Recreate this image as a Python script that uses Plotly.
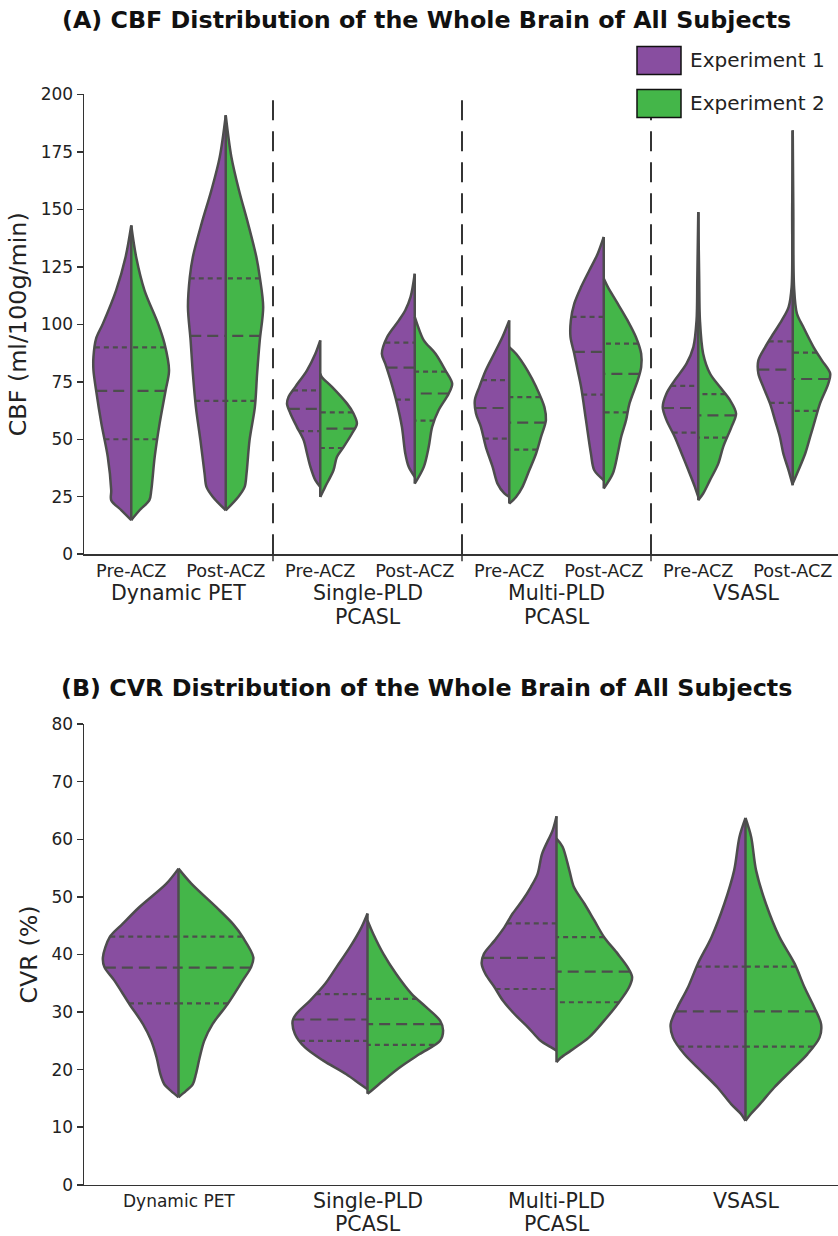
import numpy as np
import plotly.graph_objects as go

# ---------------- data ----------------
METHODS = ["Dynamic PET", "Single-PLD<br>PCASL", "Multi-PLD<br>PCASL", "VSASL"]
CONDITIONS = ["Pre-ACZ", "Post-ACZ"]
EXPERIMENTS = ["Experiment 1", "Experiment 2"]
CBF_TICKS = [0, 25, 50, 75, 100, 125, 150, 175, 200]
CVR_TICKS = [0, 10, 20, 30, 40, 50, 60, 70, 80]

# violin outlines: (value, relative density)  -- CBF, ml/100g/min
CBF_PET_PRE_E1 = [(143, 0), (129.3, .15), (114.8, .40), (100.3, .75), (93.8, .93), (85.8, 1.0), (80, 1.0), (71.3, .93), (56.8, .79), (42.3, .62), (27.8, .53), (23.5, .53), (19.1, .26), (14.8, 0)]
CBF_PET_PRE_E2 = [(143, 0), (129.3, .13), (114.8, .35), (100.3, .71), (91.6, .88), (80, 1.0), (71.3, .91), (56.8, .75), (42.3, .62), (27.8, .53), (23.5, .48), (19.1, .22), (14.8, 0)]
CBF_PET_POST_E1 = [(190.9, 0), (172.7, .16), (158.3, .38), (143.8, .64), (129.3, .87), (120.6, .95), (107.5, 1.0), (93, .93), (78.6, .87), (64, .79), (49.6, .67), (35.1, .56), (29.3, .51), (24.9, .34), (19.1, 0)]
CBF_PET_POST_E2 = [(190.9, 0), (172.7, .15), (158.3, .35), (143.8, .59), (129.3, .81), (120.6, .90), (107.5, .99), (93, .90), (78.6, .83), (64, .77), (49.6, .63), (35.1, .55), (29.3, .50), (24.9, .33), (19.1, 0)]
CBF_SPLD_PRE_E1 = [(93, 0), (87.2, .13), (80, .35), (72.8, .66), (68.4, .84), (65.5, .88), (61.2, .79), (55.4, .62), (49.6, .44), (43.8, .35), (38, .26), (32.2, .13), (29.3, 0)]
CBF_SPLD_PRE_E2 = [(78.6, 0), (77.1, .04), (72.8, .31), (65.5, .71), (61.2, .88), (56.8, .97), (52.5, .84), (46.7, .62), (42.3, .44), (36.5, .35), (29.3, .13), (24.9, 0)]
CBF_SPLD_POST_E1 = [(122, 0), (111.9, .11), (106.1, .25), (101.7, .42), (94.5, .73), (87.2, .87), (82.9, .78), (75.7, .64), (65.5, .47), (55.4, .34), (43.8, .25), (38, .16), (33.6, 0)]
CBF_SPLD_POST_E2 = [(103.2, 0), (100.3, .06), (93, .24), (87.2, .55), (80, .81), (74.2, .99), (69.9, .90), (62.6, .63), (55.4, .46), (46.7, .37), (38, .24), (30.7, 0)]
CBF_MPLD_PRE_E1 = [(101.7, 0), (94.5, .18), (87.2, .40), (80, .62), (72.8, .79), (67, .91), (61.2, .88), (55.4, .75), (46.7, .62), (38, .44), (30.7, .31), (26.4, .13), (24.9, 0)]
CBF_MPLD_PRE_E2 = [(90.1, 0), (87.2, .18), (80, .48), (72.8, .71), (64, .93), (58.3, .97), (51, .84), (43.8, .71), (36.5, .53), (29.3, .35), (24.9, .18), (22, 0)]
CBF_MPLD_POST_E1 = [(138, 0), (130.7, .16), (123.5, .38), (116.2, .60), (109, .78), (101.7, .87), (94.5, .88), (87.2, .78), (80, .69), (72.8, .60), (58.3, .47), (43.8, .34), (36.5, .25), (32.2, 0)]
CBF_MPLD_POST_E2 = [(119.9, 0), (116.2, .11), (109, .37), (101.7, .63), (94.5, .85), (87.2, .99), (81.4, .99), (75.7, .90), (65.5, .68), (58.3, .59), (51, .46), (43.8, .37), (35.1, .24), (28.6, 0)]
CBF_VS_PRE_E1 = [(148.8, 0), (120, .025), (101.7, .045), (90.1, .13), (82.9, .31), (75.7, .62), (69.9, .84), (64, .94), (58.3, .84), (51, .62), (43.8, .44), (36.5, .26), (29.3, .09), (24.9, 0)]
CBF_VS_PRE_E2 = [(148.8, 0), (120, .025), (101.7, .045), (87.2, .13), (78.6, .31), (72.8, .57), (67, .84), (61.2, 1.0), (55.4, .88), (46.7, .66), (39.4, .53), (32.2, .31), (26.4, .13), (23.5, 0)]
CBF_VS_POST_E1 = [(184.3, 0), (150, .015), (116.2, .03), (107.5, .11), (101.7, .29), (96, .51), (90.1, .73), (84.3, .91), (78.6, .91), (72.8, .78), (65.5, .60), (58.3, .47), (51, .34), (43.8, .25), (36.5, .11), (30, 0)]
CBF_VS_POST_E2 = [(184.3, 0), (150, .015), (116.2, .035), (104.7, .11), (98.8, .28), (90.1, .55), (84.3, .77), (78.6, .99), (74.2, .94), (65.5, .72), (58.3, .59), (51, .46), (43.8, .33), (36.5, .15), (30.7, 0)]

# quartiles (Q1, median, Q3)
CBF_Q_PET_PRE_E1 = [50, 71, 90]
CBF_Q_PET_PRE_E2 = [50, 71, 90]
CBF_Q_PET_POST_E1 = [66.7, 95, 120]
CBF_Q_PET_POST_E2 = [66.7, 95, 120]
CBF_Q_SPLD_PRE_E1 = [53.5, 63.2, 71.3]
CBF_Q_SPLD_PRE_E2 = [46.2, 54.6, 61.7]
CBF_Q_SPLD_POST_E1 = [67.2, 81.2, 92]
CBF_Q_SPLD_POST_E2 = [58.1, 69.9, 79.4]
CBF_Q_MPLD_PRE_E1 = [50.3, 63.6, 75.7]
CBF_Q_MPLD_PRE_E2 = [45.5, 57.2, 68.3]
CBF_Q_MPLD_POST_E1 = [69.4, 88, 103.2]
CBF_Q_MPLD_POST_E2 = [61.7, 78.4, 91.6]
CBF_Q_VS_PRE_E1 = [52.9, 63.6, 73.2]
CBF_Q_VS_PRE_E2 = [50.7, 60.4, 69.6]
CBF_Q_VS_POST_E1 = [65.8, 80.3, 92.6]
CBF_Q_VS_POST_E2 = [62.3, 76.2, 87.7]

# CVR, %
CVR_PET_E1 = [(54.9, 0), (52.3, .16), (48.2, .52), (45.3, .74), (43, .91), (39.5, 1.0), (37.8, .98), (35.5, .85), (31.4, .65), (27.9, .47), (25, .36), (22.1, .29), (19.2, .24), (17.5, .19), (16.3, .10), (15.2, 0)]
CVR_PET_E2 = [(54.9, 0), (52.3, .17), (48.2, .50), (45.3, .72), (43, .85), (39.5, .99), (37.8, .96), (35.5, .85), (31.4, .65), (27.9, .45), (25, .34), (22.1, .28), (19.2, .23), (17.5, .19), (16.3, .10), (15.2, 0)]
CVR_SPLD_E1 = [(47.1, 0), (44.7, .08), (41.3, .23), (37.8, .41), (34.9, .56), (32, .76), (29.7, .94), (28.5, .99), (26.2, .96), (23.9, .83), (21.6, .59), (19.2, .28), (17.5, .10), (16.6, 0)]
CVR_SPLD_E2 = [(45.9, 0), (43.6, .075), (40.1, .21), (36.6, .38), (33.2, .58), (30.8, .78), (28.5, .96), (26.8, 1.0), (25, .96), (22.7, .69), (20.4, .43), (18.1, .21), (16.6, .075), (15.8, 0)]
CVR_MPLD_E1 = [(64, 0), (61.6, .05), (57.5, .19), (54, .25), (51.7, .34), (49.4, .45), (47.1, .58), (44.7, .69), (42.4, .82), (40.1, .96), (38.4, .99), (36.6, .94), (34.3, .82), (32, .71), (29.7, .56), (27.4, .38), (25, .21), (23.9, .075), (23.3, 0)]
CVR_MPLD_E2 = [(60.1, 0), (58.7, .08), (54.6, .17), (51.7, .23), (48.8, .37), (45.9, .50), (43, .63), (40.1, .81), (37.8, .94), (36.1, 1.0), (34.3, .96), (31.4, .81), (28.5, .63), (25.6, .43), (23.3, .19), (22.1, .06), (21.3, 0)]
CVR_VS_E1 = [(63.7, 0), (60.4, .08), (54.6, .15), (48.8, .28), (43, .45), (38.4, .63), (34.3, .76), (30.8, .90), (27.9, .99), (25.6, .96), (22.7, .81), (19.8, .59), (16.9, .37), (14, .19), (12.3, .06), (11.1, 0)]
CVR_VS_E2 = [(63.7, 0), (60.4, .075), (54.6, .14), (48.8, .27), (43, .45), (38.4, .65), (34.3, .78), (30.8, .91), (27.9, 1.0), (25.6, .98), (22.7, .82), (19.8, .60), (16.9, .38), (14, .19), (12.3, .07), (11.1, 0)]

CVR_Q_PET_E1 = [31.5, 37.7, 43.1]
CVR_Q_PET_E2 = [31.5, 37.7, 43.1]
CVR_Q_SPLD_E1 = [25, 28.7, 33.1]
CVR_Q_SPLD_E2 = [24.3, 27.9, 32.3]
CVR_Q_MPLD_E1 = [34, 39.4, 45.4]
CVR_Q_MPLD_E2 = [31.7, 37, 43]
CVR_Q_VS_E1 = [24, 30.1, 37.9]
CVR_Q_VS_E2 = [24, 30.1, 37.9]

CBF_VIOLINS = [
    (CBF_PET_PRE_E1, CBF_PET_PRE_E2, CBF_Q_PET_PRE_E1, CBF_Q_PET_PRE_E2),
    (CBF_PET_POST_E1, CBF_PET_POST_E2, CBF_Q_PET_POST_E1, CBF_Q_PET_POST_E2),
    (CBF_SPLD_PRE_E1, CBF_SPLD_PRE_E2, CBF_Q_SPLD_PRE_E1, CBF_Q_SPLD_PRE_E2),
    (CBF_SPLD_POST_E1, CBF_SPLD_POST_E2, CBF_Q_SPLD_POST_E1, CBF_Q_SPLD_POST_E2),
    (CBF_MPLD_PRE_E1, CBF_MPLD_PRE_E2, CBF_Q_MPLD_PRE_E1, CBF_Q_MPLD_PRE_E2),
    (CBF_MPLD_POST_E1, CBF_MPLD_POST_E2, CBF_Q_MPLD_POST_E1, CBF_Q_MPLD_POST_E2),
    (CBF_VS_PRE_E1, CBF_VS_PRE_E2, CBF_Q_VS_PRE_E1, CBF_Q_VS_PRE_E2),
    (CBF_VS_POST_E1, CBF_VS_POST_E2, CBF_Q_VS_POST_E1, CBF_Q_VS_POST_E2),
]
CVR_VIOLINS = [
    (CVR_PET_E1, CVR_PET_E2, CVR_Q_PET_E1, CVR_Q_PET_E2),
    (CVR_SPLD_E1, CVR_SPLD_E2, CVR_Q_SPLD_E1, CVR_Q_SPLD_E2),
    (CVR_MPLD_E1, CVR_MPLD_E2, CVR_Q_MPLD_E1, CVR_Q_MPLD_E2),
    (CVR_VS_E1, CVR_VS_E2, CVR_Q_VS_E1, CVR_Q_VS_E2),
]

# ---------------- style ----------------
W, H = 838, 1236
FONT = "DejaVu Sans"
PURPLE = "#884EA0"
GREEN = "#44B649"
OUTLINE = "#4D4D4D"
AXIS = "#333333"
TEXT = "#222222"
HALF = 0.4
LW = 2.5
# the captured page is slightly squeezed vertically; map target pixel rows accordingly
V_SCALE, V_OFF = 0.9844, 9.5


def px_x(p):
    return p / W


def px_y(p):
    plan = (p - V_OFF) / V_SCALE
    return (H - plan) / H


fig = go.Figure()
top_traces = []


def add_half(xa, ya, center, pts, quart, side, color):
    ys = np.array([p[0] for p in pts], dtype=float)
    ws = np.array([p[1] for p in pts], dtype=float)
    xs = center + side * HALF * ws
    fig.add_trace(go.Scatter(
        x=xs, y=ys, mode="lines", fill="toself", fillcolor=color,
        line=dict(color=OUTLINE, width=LW, shape="spline", smoothing=0.9),
        xaxis=xa, yaxis=ya, hoverinfo="skip", showlegend=False))
    order = np.argsort(ys)
    for i, q in enumerate(quart):
        w = float(np.interp(q, ys[order], ws[order]))
        top_traces.append(go.Scatter(
            x=[center + side * HALF * w, center], y=[q, q], mode="lines",
            line=dict(color=OUTLINE, width=2.2,
                      dash="11px,6px" if i == 1 else "5px,4px"),
            xaxis=xa, yaxis=ya, hoverinfo="skip", showlegend=False))
    return ys.min(), ys.max()


def add_violin(xa, ya, center, e1, e2, q1, q2):
    lo1, hi1 = add_half(xa, ya, center, e1, q1, -1, PURPLE)
    lo2, hi2 = add_half(xa, ya, center, e2, q2, +1, GREEN)
    top_traces.append(go.Scatter(
        x=[center, center], y=[min(lo1, lo2), max(hi1, hi2)], mode="lines",
        line=dict(color=OUTLINE, width=LW), xaxis=xa, yaxis=ya,
        hoverinfo="skip", showlegend=False))


for i, (e1, e2, q1, q2) in enumerate(CBF_VIOLINS):
    add_violin("x", "y", i, e1, e2, q1, q2)
for i, (e1, e2, q1, q2) in enumerate(CVR_VIOLINS):
    add_violin("x2", "y2", i, e1, e2, q1, q2)
for t in top_traces:
    fig.add_trace(t)

# ---------------- axes ----------------
XDOM = [px_x(84), 1.0]
YDOM1 = [px_y(554), px_y(94)]
YDOM2 = [px_y(1185), px_y(724)]
n_top = len(METHODS) * len(CONDITIONS)
top_right = -0.5 + (W - 84) / 94.5
bot_right = -0.5 + (W - 84) / 189.0

tick_font = dict(family=FONT, size=17, color=TEXT)
fig.update_layout(
    width=W, height=H, margin=dict(l=0, r=0, t=0, b=0),
    paper_bgcolor="white", plot_bgcolor="white", showlegend=False,
    font=dict(family=FONT, color=TEXT),
    xaxis=dict(domain=XDOM, range=[-0.5, top_right], anchor="y",
               tickvals=list(range(n_top)),
               ticktext=CONDITIONS * len(METHODS),
               ticks="", tickfont=dict(family=FONT, size=17.7, color=TEXT),
               showline=True, linecolor=AXIS, linewidth=1.5,
               showgrid=False, zeroline=False, fixedrange=True),
    yaxis=dict(domain=YDOM1, range=[0, 200], anchor="x",
               tickvals=CBF_TICKS, ticks="outside", ticklen=6, tickwidth=1.5,
               tickcolor=AXIS, tickfont=tick_font,
               showline=True, linecolor=AXIS, linewidth=1.5,
               showgrid=False, zeroline=False,
               title=dict(text="CBF (ml/100g/min)", font=dict(family=FONT, size=23.8),
                          standoff=7)),
    xaxis2=dict(domain=XDOM, range=[-0.5, bot_right], anchor="y2",
                showticklabels=False, ticks="",
                showline=True, linecolor=AXIS, linewidth=1.5,
                showgrid=False, zeroline=False),
    yaxis2=dict(domain=YDOM2, range=[0, 80], anchor="x2",
                tickvals=CVR_TICKS, ticks="outside", ticklen=6, tickwidth=1.5,
                tickcolor=AXIS, tickfont=tick_font,
                showline=True, linecolor=AXIS, linewidth=1.5,
                showgrid=False, zeroline=False,
                title=dict(text="CVR (%)", font=dict(family=FONT, size=23.8),
                           standoff=7)),
)

shapes = []
annotations = []
# group separators + boundary ticks on the CBF panel
for g in range(1, len(METHODS)):
    xb = g * len(CONDITIONS) - 0.5
    shapes.append(dict(type="line", xref="x", yref="y", x0=xb, x1=xb, y0=0, y1=200,
                       line=dict(color="#111111", width=1.7, dash="20px,11px")))
    shapes.append(dict(type="line", xref="x", yref="paper", x0=xb, x1=xb,
                       y0=px_y(554), y1=px_y(561), line=dict(color=AXIS, width=1.5)))


def add_label(x, xref, lines, first_y, size, step):
    for k, line in enumerate(lines):
        annotations.append(dict(x=x, xref=xref, y=px_y(first_y + k * step), yref="paper",
                                text=line, showarrow=False, yanchor="middle",
                                font=dict(family=FONT, size=size, color=TEXT)))


# method labels under CBF panel
for g, m in enumerate(METHODS):
    add_label(g * len(CONDITIONS) + 0.5, "x", m.split("<br>"), 593, 20.5, 24)
# method labels under CVR panel
for g, m in enumerate(METHODS):
    add_label(g, "x2", m.split("<br>"), 1201, 17 if g == 0 else 20.5, 23)

# titles
annotations.append(dict(x=px_x(426), y=px_y(20), xref="paper", yref="paper", yanchor="middle",
                        text="<b>(A) CBF Distribution of the Whole Brain of All Subjects</b>",
                        showarrow=False, font=dict(family=FONT, size=23.8, color="#111111")))
annotations.append(dict(x=px_x(426), y=px_y(688), xref="paper", yref="paper", yanchor="middle",
                        text="<b>(B) CVR Distribution of the Whole Brain of All Subjects</b>",
                        showarrow=False, font=dict(family=FONT, size=23.8, color="#111111")))
# legend
for (top, color, label) in [(46, PURPLE, EXPERIMENTS[0]), (89, GREEN, EXPERIMENTS[1])]:
    shapes.append(dict(type="rect", xref="paper", yref="paper",
                       x0=px_x(637), x1=px_x(681), y0=px_y(top + 28), y1=px_y(top),
                       fillcolor=color, line=dict(color="#111111", width=1.5)))
    annotations.append(dict(x=px_x(688), y=px_y(top + 14), xref="paper", yref="paper",
                            text=label, showarrow=False, xanchor="left", yanchor="middle",
                            font=dict(family=FONT, size=20, color=TEXT)))

fig.update_layout(shapes=shapes, annotations=annotations)
fig.write_html(
    "out.html",
    config={"displayModeBar": False, "staticPlot": True},
    post_script=(
        "document.documentElement.style.margin='0px';"
        "document.documentElement.style.padding='0px';"
        "document.body.style.margin='0px';"
        "document.body.style.padding='0px';"
        "document.body.style.overflow='hidden';"
        "document.documentElement.style.overflow='hidden';"
    ),
)
